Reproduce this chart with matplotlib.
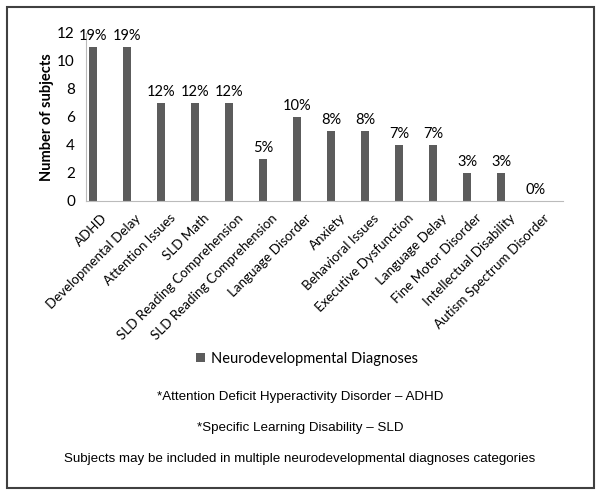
import matplotlib.pyplot as plt
from matplotlib.patches import Rectangle
from matplotlib.transforms import offset_copy

categories = ['ADHD', 'Developmental Delay', 'Attention Issues', 'SLD Math',
              'SLD Reading Comprehension', 'SLD Reading Comprehension',
              'Language Disorder', 'Anxiety', 'Behavioral Issues',
              'Executive Dysfunction', 'Language Delay', 'Fine Motor Disorder',
              'Intellectual Disability', 'Autism Spectrum Disorder']
counts = [11, 11, 7, 7, 7, 3, 6, 5, 5, 4, 4, 2, 2, 0]
percents = ['19%', '19%', '12%', '12%', '12%', '5%', '10%', '8%', '8%',
            '7%', '7%', '3%', '3%', '0%']
footnotes = ['*Attention Deficit Hyperactivity Disorder \u2013 ADHD',
             '*Specific Learning Disability \u2013 SLD',
             'Subjects may be included in multiple neurodevelopmental diagnoses categories']

W, H = 601, 494
fig = plt.figure(figsize=(W / 100, H / 100), dpi=100)
fig.patch.set_facecolor('white')

# border round the whole picture
fig.patches.append(Rectangle((7 / W, 1 - 488 / H), 587 / W, 481 / H,
                             transform=fig.transFigure, fill=False,
                             edgecolor='#404040', linewidth=1.5))

ax = fig.add_axes([86 / W, 1 - 201 / H, (563 - 86) / W, (201 - 33) / H])
x = list(range(len(categories)))
bars = ax.bar(x, counts, width=0.25, color='#5c5c5c',
              label='Neurodevelopmental Diagnoses')
for xi, c, p in zip(x, counts, percents):
    ax.text(xi, c + 0.25, p, ha='center', va='bottom', fontsize=10.5,
            family='Lato')

ax.set_xlim(-0.2, 13.82)
ax.set_ylim(0, 12)
ax.set_yticks(range(0, 13, 2))
ax.tick_params(axis='both', length=0, labelsize=11)
ax.set_xticks(x)
ax.set_xticklabels([])
for lab in ax.get_yticklabels():
    lab.set_family('Lato')
ax.tick_params(axis='y', pad=8)
ax.set_ylabel('Number of subjects', fontsize=10.5, fontweight='bold',
              family='Lato', labelpad=2)
for s in ['top', 'right']:
    ax.spines[s].set_visible(False)
for s in ['left', 'bottom']:
    ax.spines[s].set_color('#bbbbbb')

# category labels: top-right corner a little right of and below each bar
lab_tr = offset_copy(ax.get_xaxis_transform(), fig=fig, x=8, y=-11, units='dots')
for xi, name in zip(x, categories):
    ax.text(xi, 0, name, transform=lab_tr, rotation=45, ha='right', va='top',
            rotation_mode='anchor', fontsize=9.6, family='Lato')

fig.legend(handles=[bars], loc='center', bbox_to_anchor=(307 / W, 1 - 359 / H),
           frameon=False, prop={'family': 'Lato', 'size': 10.5},
           handlelength=0.6, handleheight=0.6, handletextpad=0.4)

for t, y in zip(footnotes, [397, 428, 459]):
    fig.text(300 / W, 1 - y / H, t, ha='center', va='center', fontsize=9.6,
             family='Liberation Sans')

fig.savefig('out.png', dpi=100)
